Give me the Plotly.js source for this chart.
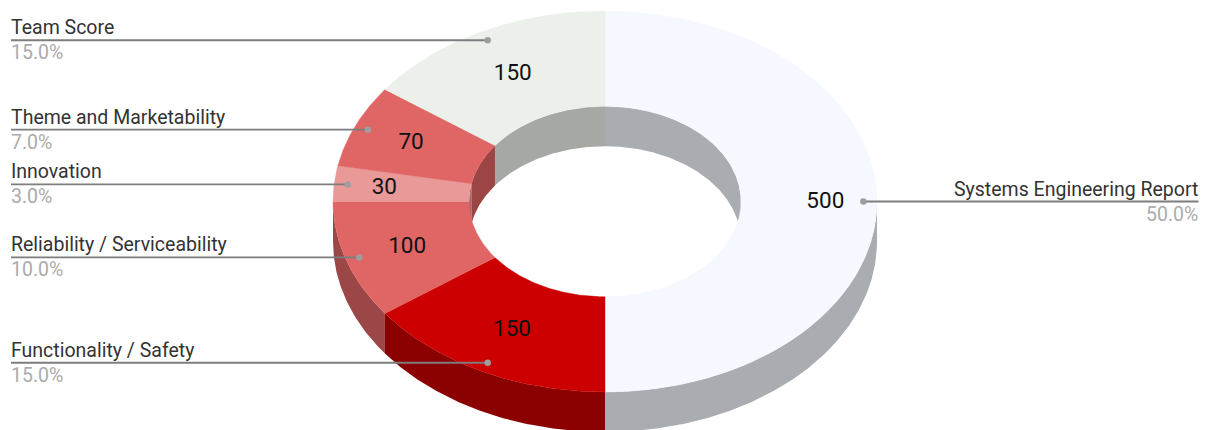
<!DOCTYPE html>
<html><head><meta charset="utf-8">
<script src="https://cdn.plot.ly/plotly-3.0.1.min.js"></script>
<style>html,body{margin:0;padding:0;background:#fff}#c{width:1206px;height:430px}</style>
</head><body><div id="c"></div>
<script>
const categories = ["Systems Engineering Report","Functionality / Safety","Reliability / Serviceability","Innovation","Theme and Marketability","Team Score"];
const values = [500,150,100,30,70,150];
const percents = ["50.0%","15.0%","10.0%","3.0%","7.0%","15.0%"];
const topColors = ["#f5f8ff","#cc0000","#e06666","#ea9999","#e06666","#ebf0eb"];
const wallColors = ["#a9acb1","#8b0000","#9c4747","#a36b6b","#9c4545","#a5a8a3"];
const labelRadius = [0.81,0.745,0.765,0.815,0.785,0.755];
const labelNudgeX = [0,-1,0,0,2,1];
const labelNudgeY = [1,2,1,1,1,1];
const labelSide = ["right","left","left","left","left","left"];

const cx=605, cy=201.5, rx=272, ry=190.5, hole=0.5, depth=40, dotR=0.95;
const total = values.reduce((a,b)=>a+b,0);
const pt=(deg,f,dy=0)=>{const t=deg*Math.PI/180;return [cx+rx*f*Math.sin(t), cy-ry*f*Math.cos(t)+dy];};
function arc(a,b,f,dy){const n=Math.max(2,Math.ceil(Math.abs(b-a)*2));const o=[];for(let i=0;i<=n;i++)o.push(pt(a+(b-a)*i/n,f,dy));return o;}
function poly(points,color,lw){
  const closed=points.concat([points[0]]);
  return {type:"scatter",mode:"lines",x:closed.map(p=>p[0]),y:closed.map(p=>p[1]),fill:"toself",fillcolor:color,
    line:{color:color,width:lw||0},hoverinfo:"skip",showlegend:false};
}
const walls=[],outer=[],faces=[],leaders=[];
const annotations=[];
let acc=0;
const lx=[],ly=[],lt=[],dx=[],dy=[];
categories.forEach((name,i)=>{
  const a=acc/total*360, b=(acc+values[i])/total*360; acc+=values[i];
  const mid=(a+b)/2;
  [[0,90],[270,360]].forEach(r=>{
    const s=Math.max(a,r[0]), e=Math.min(b,r[1]);
    if(e>s) walls.push(poly(arc(s,e,hole,0).concat(arc(e,s,hole,depth)),wallColors[i]));
  });
  const s=Math.max(a,90), e=Math.min(b,270);
  if(e>s) outer.push(poly(arc(s,e,1,0).concat(arc(e,s,1,depth)),wallColors[i]));
  faces.push(poly(arc(a,b,1,0).concat(arc(b,a,hole,0)),topColors[i],0.4));
  const lp=pt(mid,labelRadius[i]); lx.push(lp[0]+labelNudgeX[i]); ly.push(lp[1]+labelNudgeY[i]); lt.push(String(values[i]));
  const d=pt(mid,dotR); dx.push(d[0]); dy.push(d[1]);
  const right=labelSide[i]==="right";
  const lineEnd=right?1198.5:11;
  const textX=right?1199:10;
  leaders.push({type:"scatter",mode:"lines",x:[d[0],lineEnd],y:[d[1],d[1]],line:{color:"#7d7d7d",width:1.8},hoverinfo:"skip",showlegend:false});
  annotations.push({x:textX,y:d[1],xref:"x",yref:"y",text:name,showarrow:false,xanchor:right?"right":"left",yanchor:"bottom",borderpad:0,
    font:{family:"Roboto",size:19.5,color:"#333333"}});
  annotations.push({x:textX,y:d[1],xref:"x",yref:"y",text:percents[i],showarrow:false,xanchor:right?"right":"left",yanchor:"top",borderpad:0,
    font:{family:"Roboto",size:19.5,color:"#ababab"}});
});
const dots={type:"scatter",mode:"markers",x:dx,y:dy,marker:{color:"#9e9e9e",size:6.5,line:{width:0}},hoverinfo:"skip",showlegend:false};
const labels={type:"scatter",mode:"text",x:lx,y:ly,text:lt,textposition:"middle center",textfont:{family:"Roboto",size:22.5,color:"#111111"},hoverinfo:"skip",showlegend:false};
const data=walls.concat(outer,faces,leaders,[dots,labels]);
const layout={width:1206,height:430,margin:{l:0,r:0,t:0,b:0},paper_bgcolor:"#fff",plot_bgcolor:"#fff",showlegend:false,
  xaxis:{range:[0,1206],visible:false,fixedrange:true},
  yaxis:{range:[430,0],visible:false,fixedrange:true},
  annotations:annotations};
Plotly.newPlot("c",data,layout,{displayModeBar:false,staticPlot:true});
</script></body></html>
